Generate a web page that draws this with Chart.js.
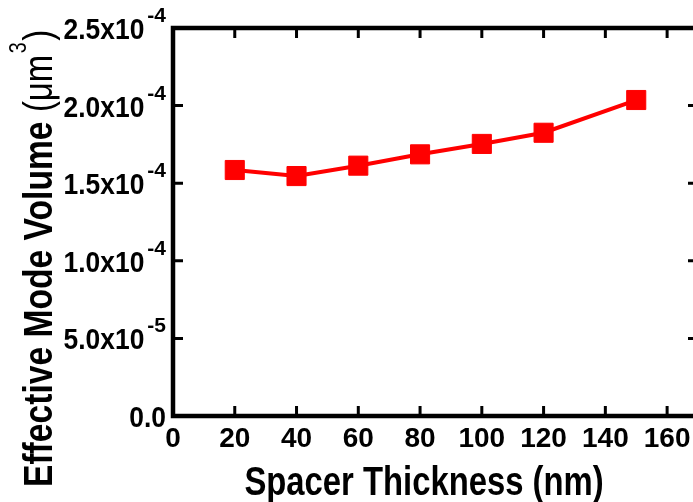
<!DOCTYPE html>
<html>
<head>
<meta charset="utf-8">
<script src="https://cdn.jsdelivr.net/npm/chart.js@4.4.0/dist/chart.umd.min.js"></script>
<style>
  html, body { margin: 0; padding: 0; background: #fff; overflow: hidden; }
</style>
</head>
<body>
<canvas id="myChart" width="700" height="502"></canvas>
<script>
// data
const thickness = [20, 40, 60, 80, 100, 120, 150];
const modeVolume = [1.585e-4, 1.546e-4, 1.613e-4, 1.686e-4, 1.753e-4, 1.825e-4, 2.036e-4];
const xTicks = [0, 20, 40, 60, 80, 100, 120, 140, 160];
const yTickValues = [0, 5e-5, 1e-4, 1.5e-4, 2e-4, 2.5e-4];
const yTickMantissa = ["0.0", "5.0x10", "1.0x10", "1.5x10", "2.0x10", "2.5x10"];
const yTickExponent = ["", "-5", "-4", "-4", "-4", "-4"];
const xTitle = "Spacer Thickness (nm)";
const yTitleMain = "Effective Mode Volume ";
const yTitleUnit = "(\u03bcm";

const FONT = "'Liberation Sans', Arial, sans-serif";

// frame with inward ticks on all four sides, plus titles and y labels with superscripts
const framePlugin = {
  id: "frame",
  beforeDatasetsDraw(chart) {
    const ctx = chart.ctx;
    const a = chart.chartArea;
    const xs = chart.scales.x;
    const ys = chart.scales.y;
    ctx.save();
    ctx.strokeStyle = "#000";
    ctx.lineWidth = 3;
    ctx.beginPath();
    xTicks.forEach((v) => {
      const px = xs.getPixelForValue(v);
      ctx.moveTo(px, a.bottom);
      ctx.lineTo(px, a.bottom - 10);
      ctx.moveTo(px, a.top);
      ctx.lineTo(px, a.top + 10);
    });
    yTickValues.forEach((v) => {
      const py = ys.getPixelForValue(v);
      ctx.moveTo(a.left, py);
      ctx.lineTo(a.left + 10, py);
      ctx.moveTo(a.right, py);
      ctx.lineTo(a.right - 10, py);
    });
    ctx.stroke();
    ctx.lineWidth = 4.5;
    ctx.strokeRect(a.left, a.top, a.right - a.left, a.bottom - a.top);
    ctx.restore();
  },
  afterDraw(chart) {
    const ctx = chart.ctx;
    const ys = chart.scales.y;
    ctx.save();
    ctx.fillStyle = "#000";
    ctx.textBaseline = "alphabetic";

    // y tick labels
    yTickValues.forEach((v, i) => {
      const py = ys.getPixelForValue(v);
      const right = 166;
      ctx.font = "bold 21px " + FONT;
      const ew = yTickExponent[i] ? ctx.measureText(yTickExponent[i]).width + 3 : 0;
      ctx.font = "bold 29px " + FONT;
      const mw = ctx.measureText(yTickMantissa[i]).width * 0.91;
      ctx.save();
      ctx.translate(right - ew - mw, py + 11);
      ctx.scale(0.91, 1);
      ctx.textAlign = "left";
      ctx.fillText(yTickMantissa[i], 0, 0);
      ctx.restore();
      if (yTickExponent[i]) {
        ctx.font = "bold 21px " + FONT;
        ctx.textAlign = "left";
        ctx.fillText(yTickExponent[i], right - ew + 3, py - 6);
      }
    });

    // x title
    ctx.save();
    ctx.translate(424, 495);
    ctx.scale(0.82, 1);
    ctx.textAlign = "center";
    ctx.font = "bold 40px " + FONT;
    ctx.fillText(xTitle, 0, 0);
    ctx.restore();

    // y title, bold part then unit in regular weight
    ctx.save();
    ctx.translate(52, 487);
    ctx.rotate(-Math.PI / 2);
    ctx.scale(0.82, 1);
    ctx.textAlign = "left";
    ctx.font = "bold 41px " + FONT;
    ctx.fillText(yTitleMain, 0, 0);
    let x = ctx.measureText(yTitleMain).width;
    ctx.font = "40px " + FONT;
    ctx.fillText(yTitleUnit, x, 0);
    x += ctx.measureText(yTitleUnit).width + 2;
    ctx.font = "24px " + FONT;
    ctx.fillText("3", x, -26);
    x += ctx.measureText("3").width + 2;
    ctx.font = "40px " + FONT;
    ctx.fillText(")", x, 0);
    ctx.restore();

    ctx.restore();
  },
};

const data = {
  labels: thickness,
  datasets: [
    {
      data: thickness.map((t, i) => ({ x: t, y: modeVolume[i] })),
      borderColor: "#ff0000",
      backgroundColor: "#ff0000",
      borderWidth: 4,
      pointStyle: "rect",
      pointRadius: 13.5,
      pointBorderWidth: 1,
      pointBackgroundColor: "#ff0000",
      pointBorderColor: "#ff0000",
      tension: 0,
    },
  ],
};

const config = {
  type: "line",
  data: data,
  plugins: [framePlugin],
  options: {
    responsive: false,
    animation: false,
    layout: { autoPadding: false, padding: { top: 28, right: 2, left: 0, bottom: 0 } },
    plugins: {
      legend: { display: false },
      tooltip: { enabled: false },
    },
    scales: {
      x: {
        type: "linear",
        min: 0,
        max: 170,
        grid: { display: false, drawTicks: false },
        border: { display: false },
        ticks: {
          stepSize: 20,
          includeBounds: false,
          padding: 6,
          color: "#000",
          font: { family: FONT, size: 28, weight: "bold" },
        },
        afterFit: (s) => {
          s.height = 86;
          s.paddingLeft = 0;
          s.paddingRight = 0;
        },
      },
      y: {
        min: 0,
        max: 2.5e-4,
        grid: { display: false, drawTicks: false },
        border: { display: false },
        ticks: { display: false },
        afterFit: (s) => { s.width = 173; },
      },
    },
  },
};

const myChart = new Chart(document.getElementById("myChart"), config);
</script>
</body>
</html>
